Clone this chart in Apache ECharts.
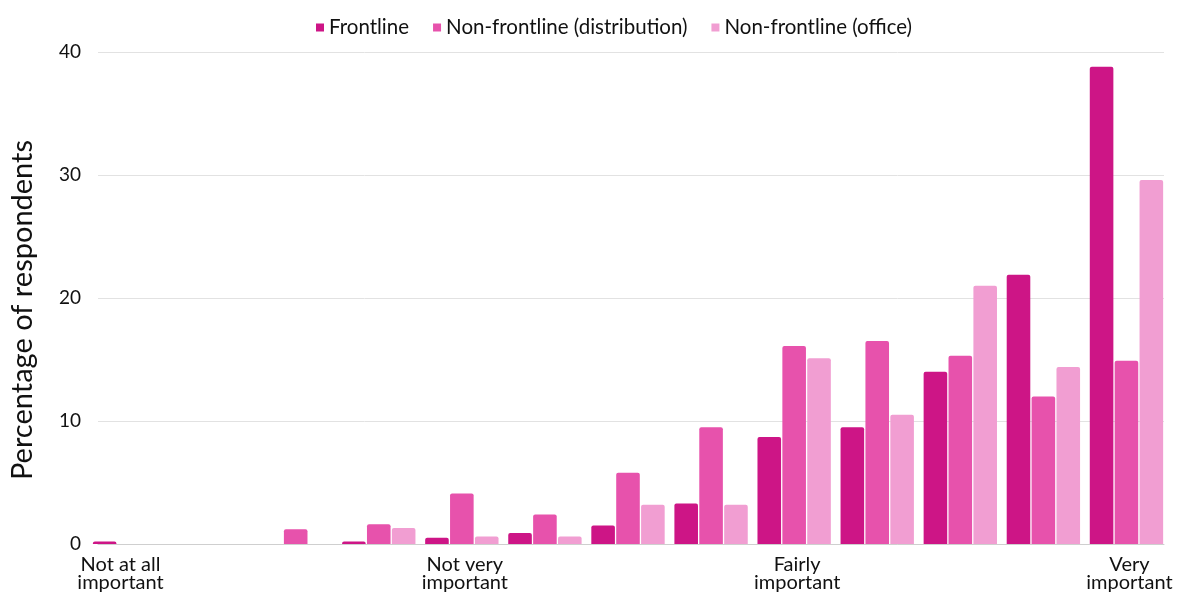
<!DOCTYPE html>
<html>
<head>
<meta charset="utf-8">
<script src="https://cdn.jsdelivr.net/npm/echarts@6/dist/echarts.min.js"></script>
<style>html,body{margin:0;padding:0;background:#fff}#c{width:1181px;height:597px}</style>
</head>
<body>
<div id="c"></div>
<script>
const categories = ['0','1','2','3','4','5','6','7','8','9','10','11','12'];
const tickLabels = ['Not at all\nimportant','','','','Not very\nimportant','','','','Fairly\nimportant','','','','Very\nimportant'];
const seriesNames = ['Frontline','Non-frontline (distribution)','Non-frontline (office)'];
const frontline = [0.2, 0, 0, 0.2, 0.5, 0.9, 1.5, 3.3, 8.7, 9.5, 14.0, 21.9, 38.8];
const distribution = [0, 0, 1.2, 1.6, 4.1, 2.4, 5.8, 9.5, 16.1, 16.5, 15.3, 12.0, 14.9];
const office = [0, 0, 0, 1.3, 0.6, 0.6, 3.2, 3.2, 15.1, 10.5, 21.0, 14.4, 29.6];
const colors = ['#CD1586', '#E752AC', '#F19ED2'];

const font = 'Lato, "Noto Sans", sans-serif';
const chart = echarts.init(document.getElementById('c'));
const mk = (name, data, color) => ({
  name, type: 'bar', data, xAxisIndex: 0, yAxisIndex: 0,
  barGap: '5.5%', barCategoryGap: '11.7%',
  itemStyle: { color, borderRadius: [2,2,0,0] },
  emphasis: { disabled: true }
});
const labelFormatter = (v, i) => {
  const t = tickLabels[i];
  if (!t) return '';
  const style = i === 0 ? 'first' : 'rest';
  return t.split('\n').map(s => '{' + style + '|' + s + '}').join('\n');
};
const labelBase = { fontSize: 20, lineHeight: 18, color: '#111', fontFamily: font };
chart.setOption({
  animation: false,
  textStyle: { fontFamily: font },
  legend: {
    top: 12, left: 311,
    itemWidth: 8, itemHeight: 8, itemGap: 24,
    icon: 'rect',
    textStyle: { fontSize: 20.5, color: '#111', fontFamily: font },
    data: seriesNames
  },
  grid: [
    { left: 88, right: 13, top: 52, bottom: 53 },
    { left: 93, right: 17, top: 52, bottom: 53 }
  ],
  xAxis: [
    {
      type: 'category', data: categories, gridIndex: 0,
      axisTick: { show: false },
      axisLine: { show: false },
      axisLabel: {
        interval: 0, margin: 12, ...labelBase,
        formatter: labelFormatter,
        rich: {
          first: { ...labelBase, padding: [0, 18, 0, 0] },
          rest: { ...labelBase, padding: [0, 0, 0, 6] }
        }
      }
    },
    {
      type: 'value', gridIndex: 1, min: 0, max: 1,
      axisLine: { show: true, onZero: false, lineStyle: { color: '#cfcfcf', width: 1 } },
      axisTick: { show: false }, axisLabel: { show: false }, splitLine: { show: false }
    }
  ],
  yAxis: [
    {
      type: 'value', gridIndex: 0, min: 0, max: 40, interval: 10,
      axisLabel: { show: false }, splitLine: { show: false },
      axisLine: { show: false }, axisTick: { show: false }
    },
    {
      type: 'value', gridIndex: 1, min: 0, max: 40, interval: 10,
      name: 'Percentage of respondents', nameLocation: 'middle', nameGap: 61,
      nameTextStyle: { fontSize: 29, color: '#111', fontFamily: font, padding: [0, 24, 0, 0] },
      axisLabel: { fontSize: 19, color: '#111', margin: 17, fontFamily: font },
      splitLine: { lineStyle: { color: '#e2e2e2', width: 1 } },
      axisLine: { show: false }, axisTick: { show: false }
    }
  ],
  series: [
    mk(seriesNames[0], frontline, colors[0]),
    mk(seriesNames[1], distribution, colors[1]),
    mk(seriesNames[2], office, colors[2])
  ]
});
</script>
</body>
</html>
